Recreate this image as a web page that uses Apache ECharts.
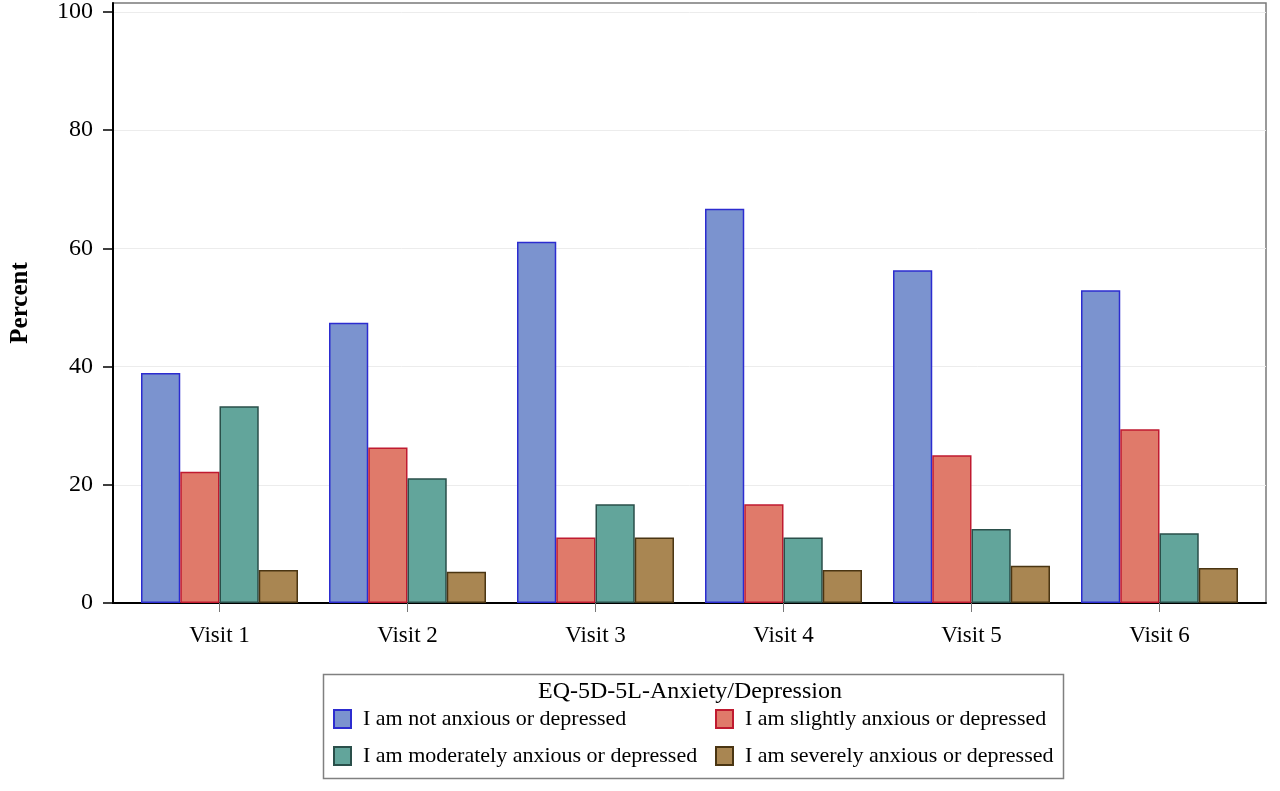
<!DOCTYPE html>
<html>
<head>
<meta charset="utf-8">
<script src="https://cdn.jsdelivr.net/npm/echarts@6/dist/echarts.min.js"></script>
<style>
html,body{margin:0;padding:0;background:#fff;}
#chart{width:1280px;height:791px;}
</style>
</head>
<body>
<div id="chart"></div>
<script>
const categories = ['Visit 1','Visit 2','Visit 3','Visit 4','Visit 5','Visit 6'];
const seriesNames = [
  'I am not anxious or depressed',
  'I am slightly anxious or depressed',
  'I am moderately anxious or depressed',
  'I am severely anxious or depressed'
];
const notAnxious = [38.9, 47.4, 61.1, 66.7, 56.3, 52.9];
const slightly   = [22.2, 26.3, 11.1, 16.7, 25.0, 29.4];
const moderately = [33.3, 21.1, 16.7, 11.1, 12.5, 11.8];
const severely   = [5.6, 5.3, 11.1, 5.6, 6.3, 5.9];
const yTicks = [0, 20, 40, 60, 80, 100];
const legendTitle = 'EQ-5D-5L-Anxiety/Depression';
const yName = 'Percent';

const FONT = 'Liberation Serif';
const fills   = ['#7b93cf', '#e07a6a', '#62a59b', '#a98652'];
const borders = ['#2c2cd0', '#c01a30', '#2a4f4a', '#4a3512'];
const values = [notAnxious, slightly, moderately, severely];

const chart = echarts.init(document.getElementById('chart'), null, {renderer: 'canvas'});

const grid0 = {left: 113, top: 3, width: 1153, height: 600, show: true, borderColor: '#7a7a7a', borderWidth: 1.5, backgroundColor: 'transparent', containLabel: false, outerBoundsMode: 'none'};
const grid1 = {left: 125.5, top: 3, width: 1128, height: 600, containLabel: false, outerBoundsMode: 'none'};

const legendCommon = {
  orient: 'vertical', top: 708, icon: 'rect', padding: 0,
  itemWidth: 17, itemHeight: 18, itemGap: 15,
  textStyle: {fontFamily: FONT, fontSize: 22, color: '#000', padding: [0, 0, 0, 7]}
};

const option = {
  backgroundColor: '#ffffff',
  animation: false,
  grid: [grid0, grid1],
  xAxis: [
    {gridIndex: 0, type: 'category', data: [''], axisLine: {show: true, lineStyle: {color: '#000', width: 2}}, axisTick: {show: false}, axisLabel: {show: false}, splitLine: {show: false}},
    {gridIndex: 1, type: 'category', data: categories,
      axisLine: {show: false},
      axisTick: {show: true, alignWithLabel: true, length: 9, lineStyle: {color: '#777', width: 1}},
      axisLabel: {show: true, fontFamily: FONT, fontSize: 23, color: '#000', margin: 21},
      splitLine: {show: false}}
  ],
  yAxis: [
    {gridIndex: 0, type: 'value', min: 0, max: 101.5, interval: 20,
      name: yName, nameLocation: 'middle', nameGap: 80, nameRotate: 90,
      nameTextStyle: {fontFamily: FONT, fontSize: 25, fontWeight: 'bold', color: '#000'},
      axisLine: {show: true, lineStyle: {color: '#000', width: 2}},
      axisTick: {show: true, length: 10, lineStyle: {color: '#000', width: 1.5}, customValues: yTicks},
      axisLabel: {fontFamily: FONT, fontSize: 24, color: '#000', margin: 20, customValues: yTicks},
      splitLine: {show: true, lineStyle: {color: '#ececec', width: 1}}},
    {gridIndex: 1, type: 'value', min: 0, max: 101.5, interval: 20, show: false, splitLine: {show: false}}
  ],
  legend: [
    Object.assign({data: [seriesNames[0], seriesNames[2]], left: 333}, legendCommon),
    Object.assign({data: [seriesNames[1], seriesNames[3]], left: 715}, legendCommon)
  ],
  graphic: [
    {type: 'rect', left: 321, top: 672, shape: {width: 740, height: 104}, style: {fill: 'none', stroke: '#808080', lineWidth: 1.5}, z: -1},
    {type: 'text', x: 690, y: 692, style: {text: legendTitle, fontFamily: FONT, fontSize: 24, fill: '#000', textAlign: 'center', textVerticalAlign: 'middle'}}
  ],
  series: values.map((v, i) => ({
    name: seriesNames[i], type: 'bar', xAxisIndex: 1, yAxisIndex: 1, data: v,
    barGap: '0%', barCategoryGap: '16.5%',
    itemStyle: {color: fills[i], borderColor: borders[i], borderWidth: 1.5}
  }))
};
chart.setOption(option);
</script>
</body>
</html>
